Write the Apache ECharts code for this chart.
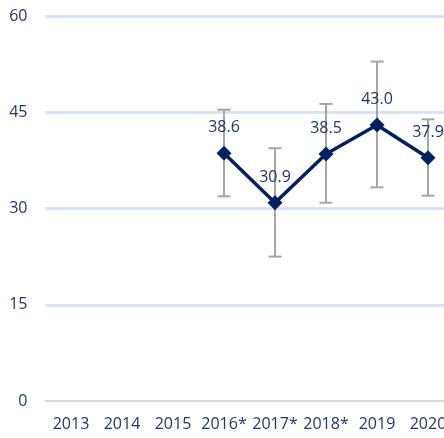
<!DOCTYPE html>
<html>
<head>
<meta charset="utf-8">
<script src="https://cdn.jsdelivr.net/npm/echarts@6/dist/echarts.min.js"></script>
<style>
  html, body { margin: 0; padding: 0; background: #fff; }
  #chart { width: 444px; height: 438px; }
</style>
</head>
<body>
<div id="chart"></div>
<script>
// 数据
var years = ["2013", "2014", "2015", "2016*", "2017*", "2018*", "2019", "2020"];
var values = [null, null, null, 38.6, 30.9, 38.5, 43.0, 37.9];
var errLow = [null, null, null, 31.9, 22.5, 30.9, 33.3, 32.0];
var errHigh = [null, null, null, 45.4, 39.4, 46.3, 52.9, 43.9];
var yTicks = [0, 15, 30, 45, 60];

var navy = "#002060";
var textColor = "#1f3864";

var errData = [];
for (var i = 0; i < years.length; i++) {
  if (errLow[i] != null) errData.push([i, errLow[i], errHigh[i]]);
}

var mychart = echarts.init(document.getElementById("chart"));
var option = {
  animation: false,
  // 右边超出画布一点，和原图一致
  grid: { left: 45.5, width: 408, top: 16, bottom: 37, outerBoundsMode: "none" },
  xAxis: {
    type: "category",
    data: years,
    boundaryGap: true,
    axisLine: { show: true, lineStyle: { color: "#d9d9d9", width: 2 } },
    axisTick: { show: false },
    axisLabel: {
      color: textColor,
      fontSize: 16,
      fontFamily: "Open Sans",
      margin: 15,
      interval: 0
    }
  },
  yAxis: {
    type: "value",
    min: yTicks[0],
    max: yTicks[yTicks.length - 1],
    interval: 15,
    axisLine: { show: false },
    axisTick: { show: false },
    axisLabel: {
      color: textColor,
      fontSize: 16,
      fontFamily: "Open Sans",
      margin: 18
    },
    splitLine: {
      lineStyle: {
        color: ["transparent", "#dae3f3", "#dae3f3", "#dae3f3", "#dae3f3"],
        width: 3
      }
    }
  },
  series: [
    {
      // 误差线
      type: "custom",
      z: 2,
      data: errData,
      renderItem: function (params, api) {
        var x = api.value(0);
        var lo = api.coord([x, api.value(1)]);
        var hi = api.coord([x, api.value(2)]);
        var half = 6.5;
        var style = { stroke: "#a6a6a6", lineWidth: 2 };
        return {
          type: "group",
          children: [
            { type: "line", shape: { x1: lo[0], y1: lo[1], x2: hi[0], y2: hi[1] }, style: style },
            { type: "line", shape: { x1: lo[0] - half, y1: lo[1], x2: lo[0] + half, y2: lo[1] }, style: style },
            { type: "line", shape: { x1: hi[0] - half, y1: hi[1], x2: hi[0] + half, y2: hi[1] }, style: style }
          ]
        };
      }
    },
    {
      type: "line",
      z: 3,
      data: values,
      connectNulls: false,
      symbol: "diamond",
      symbolSize: 15,
      lineStyle: { color: navy, width: 3.5 },
      itemStyle: { color: navy },
      label: {
        show: true,
        position: "top",
        distance: 10,
        color: textColor,
        fontSize: 16,
        fontFamily: "Open Sans",
        formatter: function (p) { return p.value.toFixed(1); }
      }
    }
  ]
};
mychart.setOption(option);
window.addEventListener("resize", function () {
  mychart.resize();
});
</script>
</body>
</html>
